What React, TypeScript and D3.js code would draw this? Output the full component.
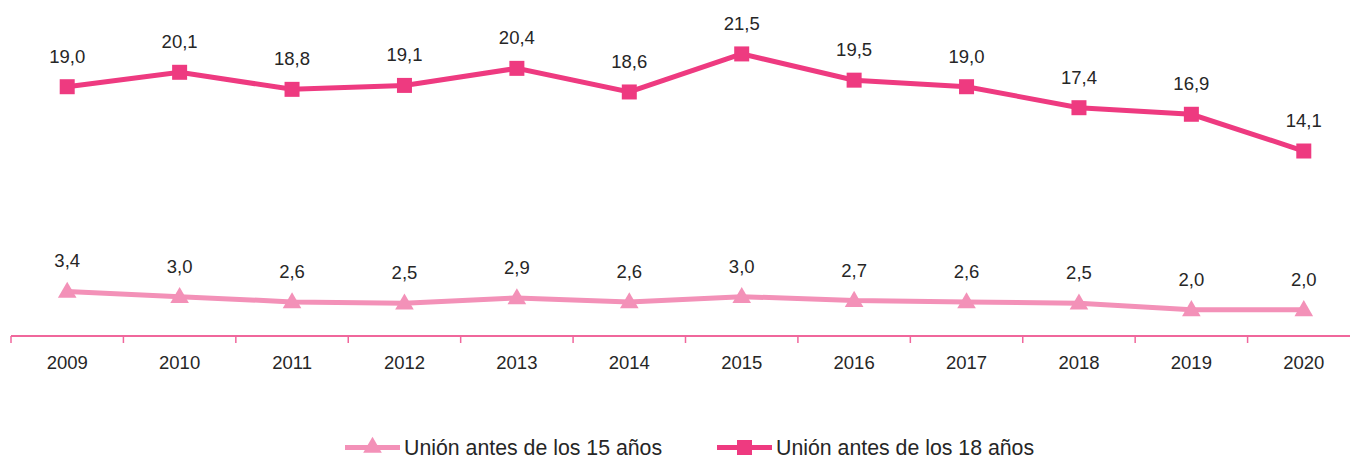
import React from "react";
import * as d3 from "d3";

const years = ["2009","2010","2011","2012","2013","2014","2015","2016","2017","2018","2019","2020"];
const antes15 = [3.4, 3.0, 2.6, 2.5, 2.9, 2.6, 3.0, 2.7, 2.6, 2.5, 2.0, 2.0];
const antes18 = [19.0, 20.1, 18.8, 19.1, 20.4, 18.6, 21.5, 19.5, 19.0, 17.4, 16.9, 14.1];
const seriesNames = ["Unión antes de los 15 años", "Unión antes de los 18 años"];

const W = 1350, H = 459;
const LIGHT = "#F391B8";
const DARK = "#EE3A80";
const AXIS = "#F0679C";
const TEXT = "#262626";
const FONT = "'Liberation Sans', Arial, sans-serif";

const fmt = (v: number) => v.toFixed(1).replace(".", ",");

export default function App() {
  const x = d3.scaleBand<string>().domain(years).range([11, 1360]).padding(0);
  const y = d3.scaleLinear().domain([0, 25]).range([336, 8]);
  const cx = (yr: string) => (x(yr) as number) + x.bandwidth() / 2;
  const line = d3.line<number>().x((_, i) => cx(years[i])).y((d) => y(d));
  const tri = d3.symbol().type(d3.symbolTriangle).size(150);
  const triPath = tri() as string;
  const sq = 15;
  const axisY = y(0);

  return (
    <svg width={W} height={H} style={{ position: "absolute", left: 0, top: 0, background: "#fff" }} fontFamily={FONT}>
      {/* axis */}
      <line x1={x.range()[0]} x2={x.range()[1]} y1={axisY} y2={axisY} stroke={AXIS} strokeWidth={2} />
      {years.concat(["end"]).map((yr, i) => {
        const xx = x.range()[0] + i * x.bandwidth();
        return <line key={"t" + i} x1={xx} x2={xx} y1={axisY} y2={axisY + 7} stroke={AXIS} strokeWidth={1.5} />;
      })}
      {years.map((yr) => (
        <text key={"yl" + yr} x={cx(yr)} y={369} textAnchor="middle" fontSize={18.5} fill={TEXT}>{yr}</text>
      ))}

      {/* series 15 */}
      <path d={line(antes15) as string} fill="none" stroke={LIGHT} strokeWidth={5} />
      {antes15.map((v, i) => (
        <path key={"m15" + i} d={triPath} transform={`translate(${cx(years[i])},${y(v) + 1})`} fill={LIGHT} />
      ))}
      {antes15.map((v, i) => (
        <text key={"l15" + i} x={cx(years[i])} y={y(v) - 24} textAnchor="middle" fontSize={18.5} fill={TEXT}>{fmt(v)}</text>
      ))}

      {/* series 18 */}
      <path d={line(antes18) as string} fill="none" stroke={DARK} strokeWidth={5} />
      {antes18.map((v, i) => (
        <rect key={"m18" + i} x={cx(years[i]) - sq / 2} y={y(v) - sq / 2} width={sq} height={sq} fill={DARK} />
      ))}
      {antes18.map((v, i) => (
        <text key={"l18" + i} x={cx(years[i])} y={y(v) - 24} textAnchor="middle" fontSize={18.5} fill={TEXT}>{fmt(v)}</text>
      ))}

      {/* legend */}
      <g transform="translate(345,447.5)">
        <line x1={0} x2={55} y1={0} y2={0} stroke={LIGHT} strokeWidth={5} />
        <path d={triPath} transform="translate(27.5,0)" fill={LIGHT} />
        <text x={59} y={7.5} fontSize={21.3} fill={TEXT}>{seriesNames[0]}</text>
      </g>
      <g transform="translate(717,447.5)">
        <line x1={0} x2={55} y1={0} y2={0} stroke={DARK} strokeWidth={5} />
        <rect x={27.5 - sq / 2} y={-sq / 2} width={sq} height={sq} fill={DARK} />
        <text x={59} y={7.5} fontSize={21.3} fill={TEXT}>{seriesNames[1]}</text>
      </g>
    </svg>
  );
}
